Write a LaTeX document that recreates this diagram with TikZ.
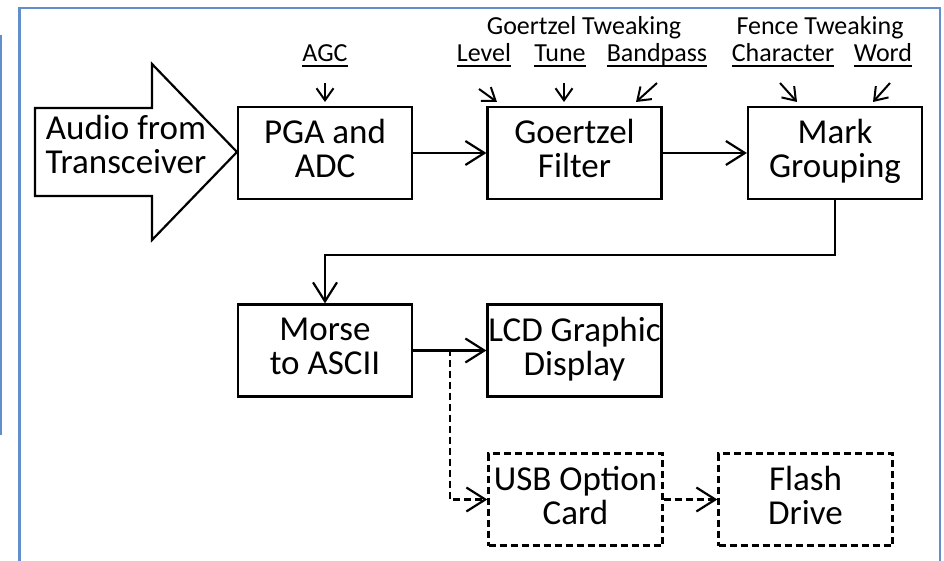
\documentclass[tikz,border=0pt]{standalone}
\usepackage{fontspec}
\setmainfont{Carlito}
\usetikzlibrary{arrows.meta,calc}
\definecolor{frameblue}{RGB}{98,142,204}
% strut giving every box line the same height and depth
\newcommand\bxs{\rule[-9pt]{0pt}{25pt}}
\newcommand\twolines[2]{\bxs #1\\\bxs #2}
% underlined parameter label
\newcommand\ulabel[1]{\setbox0=\hbox{#1}\rlap{\rule[-5pt]{\wd0}{1.5pt}}\box0}
\newcommand\boxfont{\fontsize{35}{34}\selectfont\lineskiplimit=-100pt}
\begin{document}
\begin{tikzpicture}[x=1pt,y=-1pt,
  box/.style={draw, line width=2.2pt, minimum width=174pt, minimum height=92pt,
    inner sep=0pt, align=center, font=\boxfont},
  dbox/.style={box, dash pattern=on 7pt off 4pt},
  flow/.style={line width=2.2pt, -{Straight Barb[length=19pt,width=24pt,line width=2.2pt]}},
  dflow/.style={flow, dash pattern=on 7pt off 4pt},
  tweak/.style={line width=2pt, -{Straight Barb[length=12pt,width=17pt,line width=2pt]}},
  lbl/.style={font=\fontsize{26}{30}\selectfont, anchor=base, inner sep=0pt},
  frameline/.style={frameblue, line width=2.5pt}]
\useasboundingbox (0,0) rectangle (944,561);

% page frame
\draw[frameline] (19.5,561) -- (19.5,8) -- (940,8) -- (940,561);
\draw[frameline] (1,35) -- (1,435);

% audio input arrow
\draw[line width=2.2pt, line join=miter]
  (35,108) -- (152,108) -- (152,64) -- (237,152) -- (152,240) -- (152,196) -- (35,196) -- cycle;
\node[align=center, inner sep=0pt, font=\boxfont] (audio) at (126,149)
  {\twolines{Audio from}{Transceiver}};

% processing chain
\node[box] (pga)   at (325,153)   {\twolines{PGA and}{ADC}};
\node[box] (goer)  at (574.5,153) {\twolines{Goertzel}{Filter}};
\node[box] (mark)  at (835,153)   {\twolines{Mark}{Grouping}};
\node[box] (morse) at (325,350.5) {\twolines{Morse}{to ASCII}};
\node[box] (lcd)   at (574.5,350.5) {\twolines{LCD Graphic}{Display}};
\node[dbox] (usb)  at (575.5,499.5) {\twolines{USB Option}{Card}};
\node[dbox] (flash) at (805.5,499.5) {\twolines{Flash}{Drive}};

\draw[flow] (pga.east) -- (goer.west);
\draw[flow] (goer.east) -- (mark.west);
\draw[flow] (mark.south) -- ++(0,55) -| (morse.north);
\draw[flow] (morse.east) -- (lcd.west);
\coordinate (split) at ([xshift=37pt,yshift=2pt]morse.east);
\draw[dflow] (split) |- (usb.west);
\draw[dflow] (usb.east) -- (flash.west);

% tweaking parameters
\node[lbl] (gtw)  at (584,35) {Goertzel Tweaking};
\node[lbl] (ftw)  at (820,35) {Fence Tweaking};
\node[lbl] (agc)  at (325,62) {\ulabel{AGC}};
\node[lbl] (lev)  at (484,62) {\ulabel{Level}};
\node[lbl] (tune) at (560,62) {\ulabel{Tune}};
\node[lbl] (bp)   at (657,62) {\ulabel{Bandpass}};
\node[lbl] (chr)  at (783,62) {\ulabel{Character}};
\node[lbl] (word) at (883,62) {\ulabel{Word}};

\coordinate (agcA) at (325,83);  \coordinate (agcB) at (325,102);
\coordinate (levA) at (479,89);  \coordinate (levB) at (497,102);
\coordinate (tunA) at (564,83);  \coordinate (tunB) at (564,102);
\coordinate (bpA)  at (657,83);  \coordinate (bpB)  at (636,102);
\coordinate (chrA) at (780,83);  \coordinate (chrB) at (797,102);
\coordinate (wrdA) at (890,83);  \coordinate (wrdB) at (873,102);
\draw[tweak] (agcA) -- (agcB);
\draw[tweak] (levA) -- (levB);
\draw[tweak] (tunA) -- (tunB);
\draw[tweak] (bpA) -- (bpB);
\draw[tweak] (chrA) -- (chrB);
\draw[tweak] (wrdA) -- (wrdB);
\end{tikzpicture}
\end{document}
